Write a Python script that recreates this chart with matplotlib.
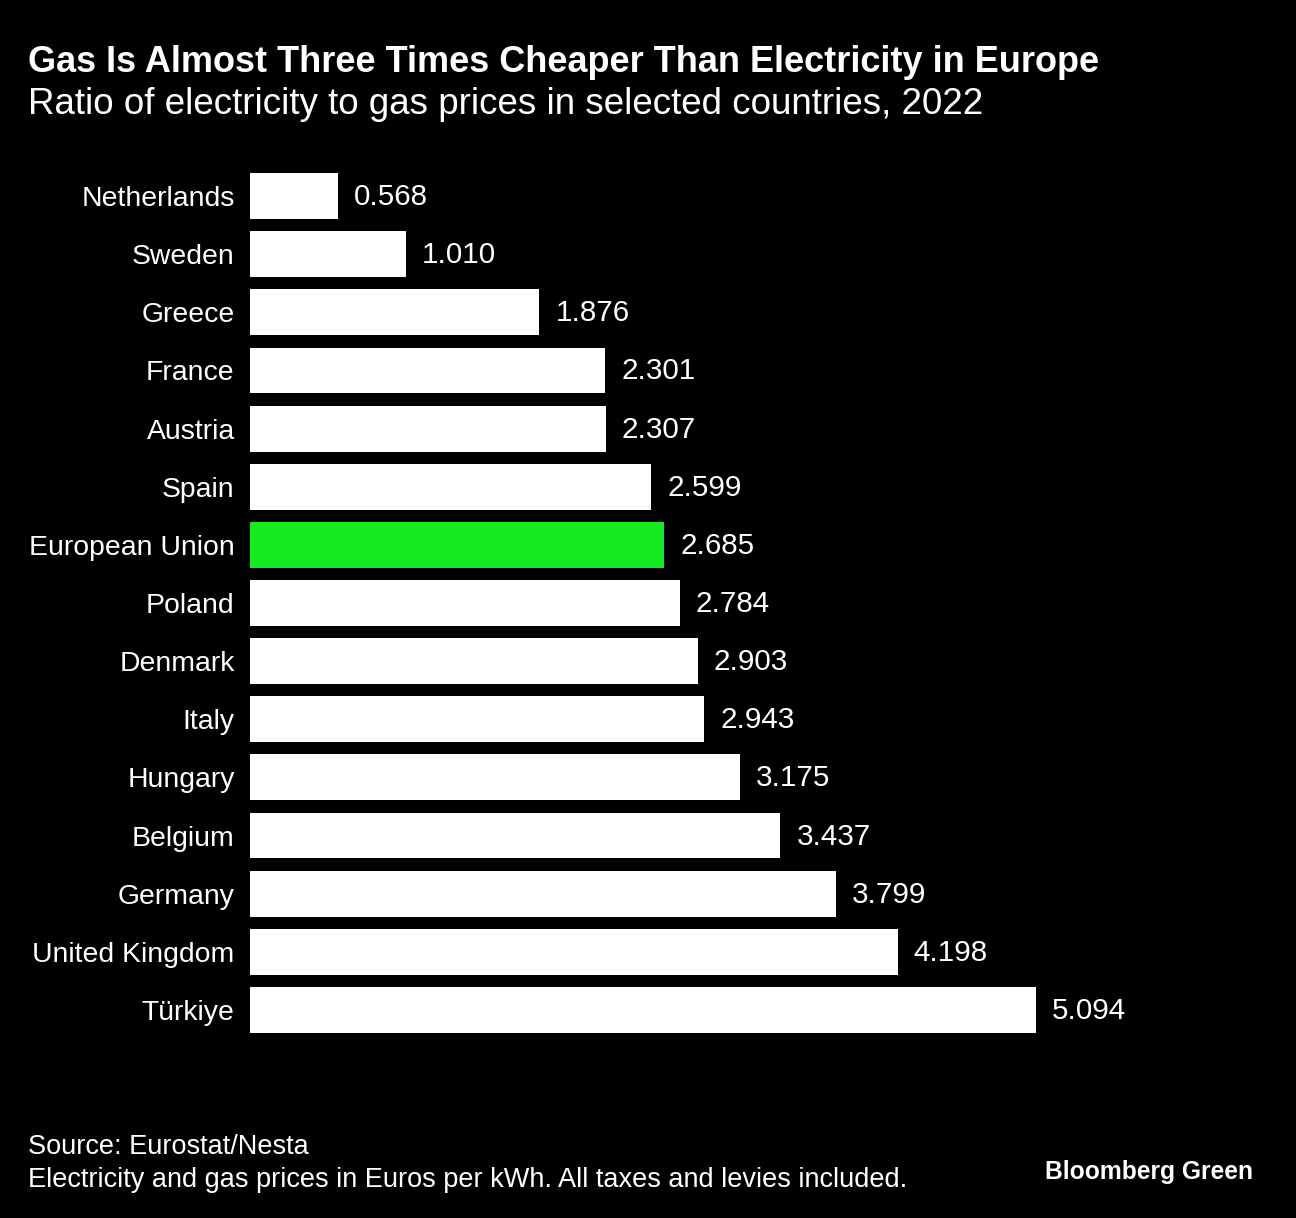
import matplotlib
matplotlib.use('Agg')
import matplotlib.pyplot as plt

countries = ['Netherlands', 'Sweden', 'Greece', 'France', 'Austria', 'Spain',
             'European Union', 'Poland', 'Denmark', 'Italy', 'Hungary',
             'Belgium', 'Germany', 'United Kingdom', 'Türkiye']
ratios = [0.568, 1.010, 1.876, 2.301, 2.307, 2.599, 2.685, 2.784, 2.903,
          2.943, 3.175, 3.437, 3.799, 4.198, 5.094]
highlight = 'European Union'

title = 'Gas Is Almost Three Times Cheaper Than Electricity in Europe'
subtitle = 'Ratio of electricity to gas prices in selected countries, 2022'
source = 'Source: Eurostat/Nesta'
note = 'Electricity and gas prices in Euros per kWh. All taxes and levies included.'

plt.rcParams['font.family'] = ['Liberation Sans', 'DejaVu Sans']

W, H = 1296, 1218
fig = plt.figure(figsize=(W / 100, H / 100), dpi=100, facecolor='black')

# axes from x=250px to 1250px, y=167px to 1039px
ax = fig.add_axes([250 / W, 1 - 1039 / H, 1000 / W, 872 / H])
ax.set_facecolor('black')

colors = ['#16eb1f' if c == highlight else 'white' for c in countries]
ypos = list(range(len(countries)))
ax.barh(ypos, ratios, height=0.79, color=colors)
ax.set_xlim(0, 1000 / 154.3)
ax.set_ylim(len(countries) - 0.5, -0.5)

for y, v in zip(ypos, ratios):
    ax.annotate(f'{v:.3f}', (v, y), xytext=(16, 2), textcoords='offset pixels',
                ha='left', va='center_baseline', color='white', fontsize=21.3)

ax.set_yticks(ypos)
ax.set_yticklabels(countries, color='white', fontsize=20.4)
for lab in ax.get_yticklabels():
    lab.set_verticalalignment('center_baseline')
ax.tick_params(axis='y', length=0, pad=11)
ax.set_xticks([])
for s in ax.spines.values():
    s.set_visible(False)

fig.text(28 / W, 1 - 62 / H, title, color='white', fontsize=26,
         fontweight='bold', ha='left', va='center')
fig.text(28 / W, 1 - 104 / H, subtitle, color='white', fontsize=26.5,
         ha='left', va='center')
fig.text(28 / W, 1 - 1147 / H, source, color='white', fontsize=19.5,
         ha='left', va='center')
fig.text(28 / W, 1 - 1180 / H, note, color='white', fontsize=19.5,
         ha='left', va='center')
fig.text(1253 / W, 1 - 1172 / H, 'Bloomberg Green', color='white',
         fontsize=17.7, fontweight='bold', ha='right', va='center')

fig.savefig('out.png', dpi=100, facecolor='black')
